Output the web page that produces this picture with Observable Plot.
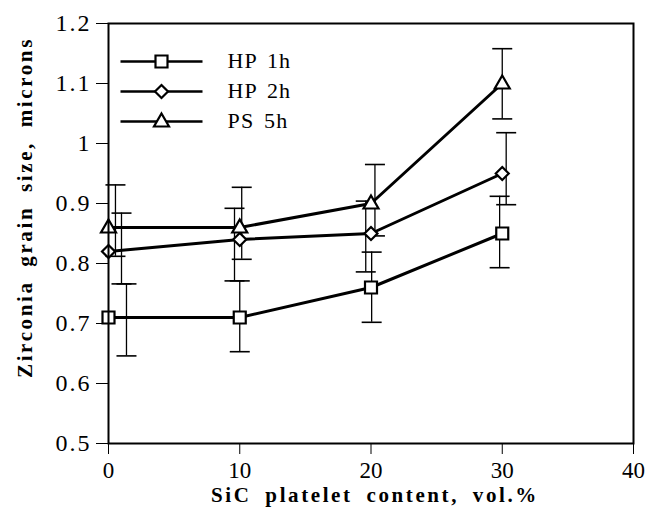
<!DOCTYPE html>
<html><head><meta charset="utf-8">
<script src="https://cdn.jsdelivr.net/npm/d3@7"></script>
<script src="https://cdn.jsdelivr.net/npm/@observablehq/plot@0.6"></script>
<style>
body{margin:0;background:#fff;}
#chart{width:647px;height:520px;}
</style></head><body><div id="chart"></div>
<script>
// ---- data ----
const contents = [0, 10, 20, 30];
const seriesNames = ["HP 1h", "HP 2h", "PS 5h"];
const hp1h = [0.71, 0.71, 0.76, 0.85];
const hp2h = [0.82, 0.84, 0.85, 0.95];
const ps5h = [0.86, 0.86, 0.90, 1.10];
// error bars (as drawn, slightly offset horizontally)
const hp1hBarX = [1.37, 10.0, 20.05, 29.8];
const hp1hLow  = [0.646, 0.653, 0.702, 0.793];
const hp1hHigh = [0.766, 0.771, 0.819, 0.912];
const hp2hBarX = [0.99, 9.6, 19.6, 30.3];
const hp2hLow  = [0.766, 0.771, 0.786, 0.898];
const hp2hHigh = [0.884, 0.892, 0.904, 1.018];
const ps5hBarX = [0.53, 10.15, 20.3, 30.0];
const ps5hLow  = [0.812, 0.807, 0.846, 1.041];
const ps5hHigh = [0.931, 0.927, 0.965, 1.158];
const xTicks = [0, 10, 20, 30, 40];
const xTickLabels = ["0", "10", "20", "30", "40"];
const yTicks = [0.5, 0.6, 0.7, 0.8, 0.9, 1.0, 1.1, 1.2];
const yTickLabels = ["0.5", "0.6", "0.7", "0.8", "0.9", "1", "1.1", "1.2"];
const xTitle = "SiC platelet content, vol.%";
const yTitle = "Zirconia grain size, microns";

// ---- symbols ----
const squareSym = {draw(c){ c.moveTo(-6,-6); c.lineTo(6,-6); c.lineTo(6,6); c.lineTo(-6,6); c.closePath(); }};
const diamondSym = {draw(c){ c.moveTo(0,-6.5); c.lineTo(6.5,0); c.lineTo(0,6.5); c.lineTo(-6.5,0); c.closePath(); }};
const triangleSym = {draw(c){ c.moveTo(0,-8); c.lineTo(7.5,5); c.lineTo(-7.5,5); c.closePath(); }};
const capSym = {draw(c){ c.moveTo(-10,0); c.lineTo(10,0); }};
const legendLineSym = {draw(c){ c.moveTo(-41,0); c.lineTo(41,0); }};

const seriesVals = [hp1h, hp2h, ps5h];
const barX = [hp1hBarX, hp2hBarX, ps5hBarX];
const lows = [hp1hLow, hp2hLow, ps5hLow];
const highs = [hp1hHigh, hp2hHigh, ps5hHigh];
const symbols = [squareSym, diamondSym, triangleSym];

const points = seriesNames.flatMap((s, i) => contents.map((x, j) => ({series: s, x, y: seriesVals[i][j]})));
const bars = seriesNames.flatMap((s, i) => contents.map((x, j) => ({series: s, bx: barX[i][j], lo: lows[i][j], hi: highs[i][j]})));
const caps = bars.flatMap(b => [{bx: b.bx, v: b.lo}, {bx: b.bx, v: b.hi}]);

const marks = [
  Plot.ruleX(bars, {x: "bx", y1: "lo", y2: "hi", stroke: "black", strokeWidth: 1.3}),
  Plot.dot(caps, {x: "bx", y: "v", symbol: capSym, fill: "none", stroke: "black", strokeWidth: 1.6}),
  Plot.line(points, {x: "x", y: "y", z: "series", stroke: "black", strokeWidth: 3}),
];
seriesNames.forEach((s, i) => {
  marks.push(Plot.dot(points.filter(d => d.series === s), {x: "x", y: "y", symbol: symbols[i], fill: "white", stroke: "black", strokeWidth: 2.2}));
  // legend
  marks.push(Plot.dot([s], {frameAnchor: "top-left", dx: 53, dy: 38 + 30 * i, symbol: legendLineSym, fill: "none", stroke: "black", strokeWidth: 2.6}));
  marks.push(Plot.dot([s], {frameAnchor: "top-left", dx: 53, dy: 38 + 30 * i, symbol: symbols[i], fill: "white", stroke: "black", strokeWidth: 2.2}));
  marks.push(Plot.text([s], {frameAnchor: "top-left", dx: 119, dy: 37 + 30 * i, text: d => d, textAnchor: "start", lineAnchor: "middle", fontSize: 22}));
});
marks.push(Plot.frame({stroke: "black", strokeWidth: 2}));
marks.push(Plot.text([xTitle], {frameAnchor: "bottom", dx: 4, dy: 52, text: d => d, textAnchor: "middle", lineAnchor: "middle", fontWeight: "bold", fontSize: 21}));
marks.push(Plot.text([yTitle], {frameAnchor: "left", dx: -83, dy: -26, rotate: -90, text: d => d, textAnchor: "middle", lineAnchor: "middle", fontWeight: "bold", fontSize: 21}));

const chart = Plot.plot({
  width: 647, height: 520,
  marginLeft: 108, marginRight: 14, marginTop: 23, marginBottom: 77,
  style: {fontFamily: "Liberation Serif", fontSize: "22px", color: "black", background: "white"},
  x: {domain: [0, 40], ticks: xTicks, tickFormat: (d) => xTickLabels[xTicks.indexOf(d)], tickSize: 11, tickPadding: 7, label: null},
  y: {domain: [0.5, 1.2], ticks: yTicks, tickFormat: (d) => yTickLabels[yTicks.findIndex(t => Math.abs(t - d) < 1e-9)], tickSize: 12, tickPadding: 5, label: null},
  marks
});
d3.select(chart).selectAll("text").each(function() {
  const t = this.textContent;
  const sel = d3.select(this);
  if (t === xTitle || t === yTitle) sel.style("letter-spacing", "2.6px").style("word-spacing", "6px");
  else if (seriesNames.includes(t)) sel.style("letter-spacing", "1.2px").style("word-spacing", "3px");
  else if (yTickLabels.includes(t)) sel.style("font-size", "24px").style("letter-spacing", "2px");
  else if (xTickLabels.includes(t)) sel.style("font-size", "23px");
});
document.getElementById("chart").appendChild(chart);
</script></body></html>
